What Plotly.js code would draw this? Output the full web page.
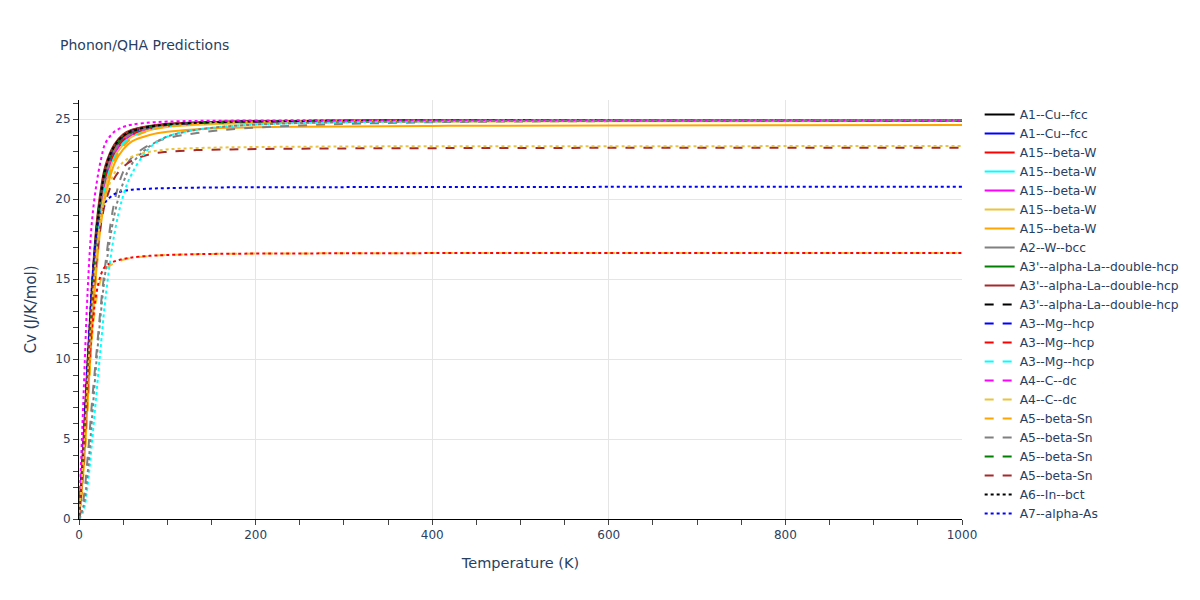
<!DOCTYPE html>
<html><head><meta charset="utf-8">
<script src="https://cdn.plot.ly/plotly-3.0.1.min.js"></script>
<style>body{margin:0}#chart{width:1200px;height:600px}</style>
</head><body><div id="chart"></div>
<script>
const temperature = [0,5,10,15,20,25,30,40,50,60,80,100,130,170,250,400,600,1000];

const seriesNames = [
  "A1--Cu--fcc","A1--Cu--fcc","A15--beta-W","A15--beta-W","A15--beta-W","A15--beta-W","A15--beta-W","A2--W--bcc",
  "A3'--alpha-La--double-hcp","A3'--alpha-La--double-hcp","A3'--alpha-La--double-hcp",
  "A3--Mg--hcp","A3--Mg--hcp","A3--Mg--hcp","A4--C--dc","A4--C--dc",
  "A5--beta-Sn","A5--beta-Sn","A5--beta-Sn","A5--beta-Sn","A6--In--bct","A7--alpha-As",
  "A7--alpha-As","A8--gamma-Se","A9--graphite","Ab--beta-Al2O3","B1--NaCl"
];
const seriesColors = [
  "#000000","#0000ff","#ff0000","#00ffff","#ff00ff","#ebc33f","#ffa500","#808080","#008000","#a52a2a",
  "#000000","#0000ff","#ff0000","#00ffff","#ff00ff","#ebc33f","#ffa500","#808080","#008000","#a52a2a",
  "#000000","#0000ff","#ff0000","#00ffff","#ff00ff","#ebc33f","#808080"
];
const seriesDash = [
  "solid","solid","solid","solid","solid","solid","solid","solid","solid","solid",
  "dash","dash","dash","dash","dash","dash","dash","dash","dash","dash",
  "dot","dot","dot","dot","dot","dot","dot"
];
// entries visible in the legend (the rest sit below the legend's visible area)
const legendCount = 22;

const cv_A1_Cu_1   = [0,4.3,9.5,14.3,18,20.2,21.8,23.2,23.9,24.2,24.5,24.65,24.75,24.82,24.87,24.9,24.92,24.93];
const cv_A1_Cu_2   = [0,3.9,9.0,13.8,17.6,19.9,21.5,23.0,23.75,24.1,24.45,24.62,24.73,24.8,24.86,24.9,24.91,24.92];
const cv_A15_W_1   = [0,4.1,9.3,14.0,17.8,20.0,21.6,23.1,23.8,24.15,24.48,24.63,24.74,24.81,24.87,24.9,24.92,24.93];
const cv_A15_W_2   = [0,3.8,8.8,13.6,17.4,19.7,21.3,22.9,23.7,24.05,24.42,24.6,24.72,24.8,24.86,24.89,24.91,24.92];
const cv_A15_W_3   = [0,3.6,8.6,13.3,17.1,19.5,21.1,22.8,23.6,24.0,24.4,24.58,24.71,24.79,24.86,24.89,24.91,24.92];
const cv_A15_W_4   = [0,3.3,8.0,12.8,16.5,19.0,20.7,22.6,23.4,23.9,24.3,24.5,24.62,24.7,24.78,24.83,24.86,24.88];
const cv_A15_W_5   = [0,3.0,7.5,12.0,15.8,18.5,20.2,22.2,23.1,23.6,24.0,24.2,24.35,24.45,24.52,24.57,24.6,24.62];
const cv_A2_W      = [0,4.0,9.2,13.9,17.7,19.9,21.5,23.0,23.75,24.1,24.45,24.62,24.73,24.81,24.87,24.9,24.92,24.93];
const cv_A3p_La_1  = [0,4.6,9.9,14.6,18.3,20.5,22.0,23.35,24.0,24.3,24.55,24.68,24.77,24.83,24.88,24.91,24.92,24.93];
const cv_A3p_La_2  = [0,4.8,10.2,14.9,18.5,20.7,22.1,23.4,24.05,24.33,24.57,24.7,24.78,24.84,24.88,24.91,24.92,24.93];
const cv_A3p_La_3  = [0,4.5,9.8,14.5,18.2,20.4,21.9,23.3,23.95,24.25,24.52,24.66,24.76,24.83,24.88,24.91,24.92,24.93];
const cv_A3_Mg_1   = [0,4.2,9.4,14.1,17.9,20.1,21.7,23.15,23.85,24.18,24.5,24.64,24.75,24.82,24.87,24.9,24.92,24.93];
const cv_A3_Mg_2   = [0,3.7,8.7,13.4,17.2,19.6,21.2,22.85,23.65,24.02,24.4,24.58,24.71,24.79,24.86,24.89,24.91,24.92];
const cv_A3_Mg_3   = [0,3.4,8.2,12.9,16.8,19.2,20.9,22.6,23.5,23.9,24.35,24.55,24.7,24.78,24.85,24.89,24.91,24.92];
const cv_A4_C_1    = [0,4.4,9.6,14.4,18.1,20.3,21.8,23.25,23.9,24.22,24.5,24.65,24.75,24.82,24.87,24.9,24.92,24.93];
const cv_A4_C_2    = [0,3.0,7.5,11.5,13.8,15.0,15.6,16.0,16.2,16.32,16.44,16.5,16.55,16.58,16.6,16.62,16.63,16.63];
const cv_A5_Sn_1   = [0,2.8,7.2,11.8,15.6,18.5,20.4,22.4,23.3,23.8,24.3,24.52,24.67,24.77,24.85,24.89,24.91,24.92];
const cv_A5_Sn_2   = [0,1.2,4.0,7.5,10.5,13.5,16.0,19.8,21.7,22.6,23.4,23.8,24.1,24.35,24.6,24.8,24.87,24.9];
const cv_A5_Sn_3   = [0,4.3,9.6,14.3,18.0,20.3,21.8,23.2,23.9,24.2,24.5,24.65,24.75,24.82,24.87,24.9,24.92,24.93];
const cv_A5_Sn_4   = [0,3.5,8.5,13.0,16.3,18.5,19.8,21.3,22.0,22.4,22.8,22.95,23.05,23.1,23.15,23.18,23.2,23.2];
const cv_A6_In     = [0,4.4,9.7,14.4,18.1,20.3,21.9,23.3,23.95,24.25,24.52,24.66,24.76,24.83,24.88,24.91,24.92,24.93];
const cv_A7_As_1   = [0,4.5,10.0,14.8,17.8,19.1,19.8,20.3,20.5,20.58,20.65,20.68,20.71,20.73,20.74,20.75,20.76,20.76];
const cv_A7_As_2   = [0,3.8,8.5,12.0,14.2,15.3,15.8,16.1,16.25,16.35,16.45,16.5,16.55,16.58,16.6,16.62,16.63,16.63];
const cv_A8_Se     = [0,0.5,2.2,5.0,8.0,11.0,13.8,17.8,20.2,21.6,23.2,23.9,24.3,24.55,24.75,24.85,24.9,24.92];
const cv_A9_C      = [0,7.5,14.5,18.8,21.0,22.5,23.5,24.2,24.5,24.65,24.78,24.84,24.88,24.9,24.92,24.93,24.93,24.94];
const cv_Ab        = [0,3.8,9.0,13.5,16.8,18.9,20.2,21.6,22.3,22.65,22.95,23.1,23.18,23.23,23.27,23.3,23.3,23.32];
const cv_B1        = [0,0.8,3.0,6.5,10.0,13.0,15.5,19.0,21.0,22.2,23.3,23.9,24.3,24.55,24.75,24.85,24.9,24.92];

const seriesValues = [
  cv_A1_Cu_1, cv_A1_Cu_2, cv_A15_W_1, cv_A15_W_2, cv_A15_W_3, cv_A15_W_4, cv_A15_W_5, cv_A2_W,
  cv_A3p_La_1, cv_A3p_La_2, cv_A3p_La_3, cv_A3_Mg_1, cv_A3_Mg_2, cv_A3_Mg_3, cv_A4_C_1, cv_A4_C_2,
  cv_A5_Sn_1, cv_A5_Sn_2, cv_A5_Sn_3, cv_A5_Sn_4, cv_A6_In, cv_A7_As_1,
  cv_A7_As_2, cv_A8_Se, cv_A9_C, cv_Ab, cv_B1
];

const traces = seriesValues.map((vals, i) => ({
  type: "scatter", mode: "lines",
  x: temperature, y: vals, name: seriesNames[i],
  showlegend: i < legendCount,
  line: {color: seriesColors[i], dash: seriesDash[i], width: 2, shape: "spline"}
}));

const FONT = "DejaVu Sans, Verdana, sans-serif";
const axisCommon = {
  showline: true, linecolor: "#000", linewidth: 1,
  ticks: "outside", tickcolor: "#444", ticklen: 5,
  gridcolor: "#e5e5e5", zeroline: false,
  tickfont: {color: "#2a3f5f", size: 12, family: FONT},
};

const layout = {
  width: 1200, height: 600,
  margin: {l: 79, r: 238, t: 100, b: 81},
  paper_bgcolor: "#fff", plot_bgcolor: "#fff",
  font: {family: FONT, color: "#2a3f5f"},
  title: {text: "Phonon/QHA Predictions", x: 0.05, font: {size: 14, color: "#2a3f5f", family: FONT}},
  xaxis: Object.assign({}, axisCommon, {
    title: {text: "Temperature (K)", font: {size: 14.5, family: FONT}, standoff: 16},
    range: [0, 1000], dtick: 200,
    minor: {dtick: 50, ticks: "outside", ticklen: 5, tickcolor: "#444", showgrid: false}
  }),
  yaxis: Object.assign({}, axisCommon, {
    title: {text: "Cv (J/K/mol)", font: {size: 15, family: FONT}, standoff: 15},
    range: [0, 26.19], dtick: 5,
    minor: {dtick: 1, ticks: "outside", ticklen: 5, tickcolor: "#444", showgrid: false}
  }),
  legend: {font: {size: 12.3, color: "#2a3f5f", family: FONT}, maxheight: 600},
  showlegend: true
};

Plotly.newPlot("chart", traces, layout, {displayModeBar: false});
</script>
</body></html>
